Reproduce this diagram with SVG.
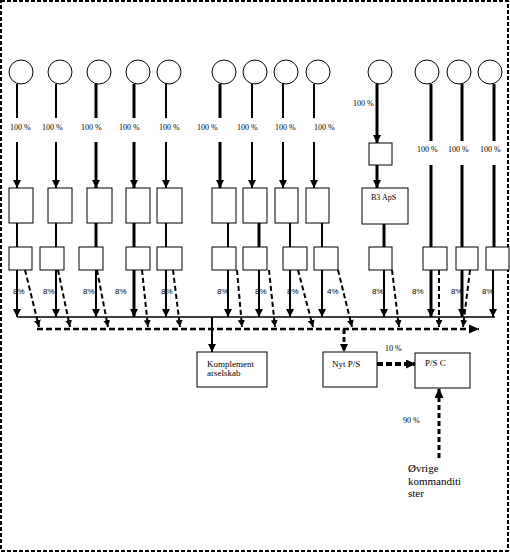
<svg xmlns="http://www.w3.org/2000/svg" width="510" height="553" viewBox="0 0 510 553">
<style>
.frame{fill:none;stroke:#000;stroke-width:2;stroke-dasharray:4 2}
.c{fill:#fff;stroke:#000;stroke-width:1}
.b{fill:#fff;stroke:#000;stroke-width:1}
.s2{stroke:#000;stroke-width:2;fill:none}
.s3{stroke:#000;stroke-width:3;fill:none}
.s1{stroke:#000;stroke-width:1.5;fill:none}
.d{stroke:#000;stroke-width:2;stroke-dasharray:5 3;fill:none}
.dh{stroke:#000;stroke-width:2.5;stroke-dasharray:6 3;fill:none}
.dt{stroke:#000;stroke-width:4;stroke-dasharray:6 3;fill:none}
.dv{stroke:#000;stroke-width:3;stroke-dasharray:5 3;fill:none}
.t{font-family:"Liberation Serif","Times New Roman",serif;font-size:8px;fill:#000}
.t9{font-family:"Liberation Serif","Times New Roman",serif;font-size:9px;fill:#000}
.t11{font-family:"Liberation Serif","Times New Roman",serif;font-size:11px;fill:#000}
.p{font-family:"Liberation Sans",Arial,sans-serif;font-size:8px;fill:#000}
</style>
<defs>
<marker id="ah" markerUnits="userSpaceOnUse" markerWidth="8" markerHeight="8" viewBox="0 0 8 8" refX="8" refY="4" orient="auto"><path d="M0,0 L8,4 L0,8 z" fill="#000"/></marker>
<marker id="ahs" markerUnits="userSpaceOnUse" markerWidth="7" markerHeight="7" viewBox="0 0 8 8" refX="8" refY="4" orient="auto"><path d="M0,0 L8,4 L0,8 z" fill="#000"/></marker>
<marker id="ahb" markerUnits="userSpaceOnUse" markerWidth="10" markerHeight="9" viewBox="0 0 10 9" refX="10" refY="4.5" orient="auto"><path d="M0,0 L10,4.5 L0,9 z" fill="#000"/></marker>
</defs>
<rect class="frame" x="1" y="1" width="507" height="550"/>

<g id="connectors">
<!-- circle to label segments -->
<path class="s2" d="M17,84V118"/><path class="s2" d="M56,84V118"/><path class="s3" d="M96,84V118"/><path class="s3" d="M134,84V118"/><path class="s2" d="M166,84V118"/>
<path class="s3" d="M220,84V118"/><path class="s2" d="M252,84V118"/><path class="s2" d="M283,84V118"/><path class="s2" d="M314,84V118"/>
<path class="s3" d="M431,84V141"/><path class="s3" d="M462,84V141"/><path class="s3" d="M494,84V141"/>
<!-- label to upper boxes -->
<path class="s2" d="M17,142V188" marker-end="url(#ah)"/><path class="s2" d="M56,142V188" marker-end="url(#ah)"/><path class="s3" d="M96,142V188" marker-end="url(#ah)"/><path class="s3" d="M134,142V188" marker-end="url(#ah)"/><path class="s2" d="M166,142V188" marker-end="url(#ah)"/>
<path class="s3" d="M220,142V188" marker-end="url(#ah)"/><path class="s2" d="M252,142V188" marker-end="url(#ah)"/><path class="s2" d="M283,142V188" marker-end="url(#ah)"/><path class="s2" d="M314,142V188" marker-end="url(#ah)"/>
<!-- column 10 -->
<path class="s3" d="M377,84V143" marker-end="url(#ah)"/>
<path class="s3" d="M377,165V188" marker-end="url(#ah)"/>
<path class="s3" d="M384,224V247"/>
<!-- upper box to lower box -->
<path class="s2" d="M17,223V247"/><path class="s2" d="M56,223V247"/><path class="s3" d="M96,223V247"/><path class="s3" d="M134,223V247"/><path class="s2" d="M166,223V247"/>
<path class="s2" d="M228,223V247"/><path class="s3" d="M259,223V247"/><path class="s2" d="M290,223V247"/><path class="s2" d="M322,223V247"/>
<path class="s3" d="M431,165V247"/><path class="s3" d="M462,165V247"/><path class="s3" d="M494,165V247"/>
<!-- lower boxes to solid line -->
<path class="s2" d="M17,270V317" marker-end="url(#ah)"/><path class="s2" d="M56,270V317" marker-end="url(#ah)"/><path class="s2" d="M96,270V317" marker-end="url(#ah)"/><path class="s3" d="M134,270V317" marker-end="url(#ah)"/><path class="s2" d="M166,270V317" marker-end="url(#ah)"/>
<path class="s2" d="M228,270V317" marker-end="url(#ah)"/><path class="s2" d="M259,270V317" marker-end="url(#ah)"/><path class="s2" d="M290,270V317" marker-end="url(#ah)"/><path class="s2" d="M322,270V317" marker-end="url(#ah)"/>
<path class="s2" d="M384,270V317" marker-end="url(#ah)"/><path class="s3" d="M431,270V317" marker-end="url(#ah)"/><path class="s3" d="M462,270V317" marker-end="url(#ah)"/><path class="s2" d="M493,270V317" marker-end="url(#ah)"/>
<!-- solid collector line -->
<path class="s1" d="M17,317H495"/>
<!-- dashed diagonals -->
<path class="d" d="M25,270L39,327" marker-end="url(#ahs)"/>
<path class="d" d="M58,270L70,327" marker-end="url(#ahs)"/>
<path class="d" d="M97,270L108,327" marker-end="url(#ahs)"/>
<path class="d" d="M142,270L148,327" marker-end="url(#ahs)"/>
<path class="d" d="M173,270L180,327" marker-end="url(#ahs)"/>
<path class="d" d="M237,270L242,327" marker-end="url(#ahs)"/>
<path class="d" d="M269,270L275,327" marker-end="url(#ahs)"/>
<path class="d" d="M298,270L313,327" marker-end="url(#ahs)"/>
<path class="d" d="M338,270L352,327" marker-end="url(#ahs)"/>
<path class="d" d="M392,270L399,327" marker-end="url(#ahs)"/>
<path class="d" d="M439,270L439,327" marker-end="url(#ahs)"/>
<path class="d" d="M470,270L463,327" marker-end="url(#ahs)"/>
<!-- dashed collector line -->
<path class="dh" d="M37,329H479" marker-end="url(#ahb)"/>
<!-- to bottom boxes -->
<path class="s2" d="M212,317V352" marker-end="url(#ah)"/>
<path class="dv" d="M344,329V352" marker-end="url(#ah)"/>
<path class="dt" d="M377,364H416" marker-end="url(#ahb)"/>
<path class="dv" d="M439,458V388" marker-end="url(#ahb)"/>
</g>

<g id="owners">
<circle class="c" cx="21" cy="72" r="12"/><circle class="c" cx="60" cy="72" r="12"/><circle class="c" cx="99" cy="72" r="12"/><circle class="c" cx="138" cy="72" r="12"/><circle class="c" cx="169" cy="72" r="12"/>
<circle class="c" cx="224" cy="72" r="12"/><circle class="c" cx="255" cy="72" r="12"/><circle class="c" cx="286" cy="72" r="12"/><circle class="c" cx="318" cy="72" r="12"/>
<circle class="c" cx="380" cy="72" r="12"/><circle class="c" cx="427" cy="72" r="12"/><circle class="c" cx="459" cy="72" r="12"/><circle class="c" cx="490" cy="72" r="12"/>
</g>

<g id="upper-boxes">
<rect class="b" x="9" y="188" width="24" height="35"/><rect class="b" x="48" y="188" width="24" height="35"/><rect class="b" x="87" y="188" width="25" height="35"/><rect class="b" x="126" y="188" width="24" height="35"/><rect class="b" x="157" y="188" width="25" height="35"/>
<rect class="b" x="212" y="188" width="24" height="35"/><rect class="b" x="243" y="188" width="24" height="35"/><rect class="b" x="275" y="188" width="23" height="35"/><rect class="b" x="306" y="188" width="23" height="35"/>
</g>
<g id="small-box"><rect class="b" x="369" y="143" width="23" height="22"/></g>
<g id="b3aps"><rect class="b" x="362" y="188" width="46" height="36"/><text class="t" x="371" y="200">B3 ApS</text></g>

<g id="lower-boxes">
<rect class="b" x="9" y="247" width="23" height="23"/><rect class="b" x="40" y="247" width="24" height="23"/><rect class="b" x="79" y="247" width="24" height="23"/><rect class="b" x="126" y="247" width="24" height="23"/><rect class="b" x="157" y="247" width="25" height="23"/>
<rect class="b" x="212" y="247" width="24" height="23"/><rect class="b" x="243" y="247" width="24" height="23"/><rect class="b" x="283" y="247" width="24" height="23"/><rect class="b" x="314" y="247" width="24" height="23"/>
<rect class="b" x="369" y="247" width="23" height="23"/><rect class="b" x="423" y="247" width="24" height="23"/><rect class="b" x="456" y="247" width="22" height="23"/><rect class="b" x="486" y="247" width="23" height="23"/>
</g>

<g id="labels">
<text class="t" x="10" y="130">100 %</text><text class="t" x="42" y="130">100 %</text><text class="t" x="81" y="130">100 %</text><text class="t" x="119" y="130">100 %</text><text class="t" x="159" y="130">100 %</text>
<text class="t" x="197" y="130">100 %</text><text class="t" x="237" y="130">100 %</text><text class="t" x="275" y="130">100 %</text><text class="t" x="314" y="130">100 %</text>
<text class="t" x="353" y="106">100 %</text>
<text class="t" x="417" y="152">100 %</text><text class="t" x="448" y="152">100 %</text><text class="t" x="480" y="152">100 %</text>
<text class="p" x="13" y="294">8%</text><text class="p" x="43" y="294">8%</text><text class="p" x="83" y="294">8%</text><text class="p" x="115" y="294">8%</text><text class="p" x="161" y="294">8%</text>
<text class="p" x="217" y="294">8%</text><text class="p" x="255" y="294">8%</text><text class="p" x="287" y="294">8%</text><text class="p" x="327" y="294">4%</text>
<text class="p" x="372" y="294">8%</text><text class="p" x="412" y="294">8%</text><text class="p" x="451" y="294">8%</text><text class="p" x="482" y="294">8%</text>
<text class="t" x="385" y="351">10 %</text>
<text class="t" x="403" y="423">90 %</text>
</g>

<g id="komplementarselskab"><rect class="b" x="197" y="352" width="70" height="35"/><text class="t9" x="207" y="367">Komplement</text><text class="t9" x="207" y="376">arselskab</text></g>
<g id="nyt-ps"><rect class="b" x="323" y="352" width="54" height="35"/><text class="t9" x="332" y="367">Nyt P/S</text></g>
<g id="ps-c"><rect class="b" x="415" y="353" width="55" height="35"/><text class="t9" x="425" y="366">P/S C</text></g>
<g id="ovrige"><text class="t11" x="408" y="472">Øvrige</text><text class="t11" x="408" y="485">kommanditi</text><text class="t11" x="408" y="497">ster</text></g>
</svg>
